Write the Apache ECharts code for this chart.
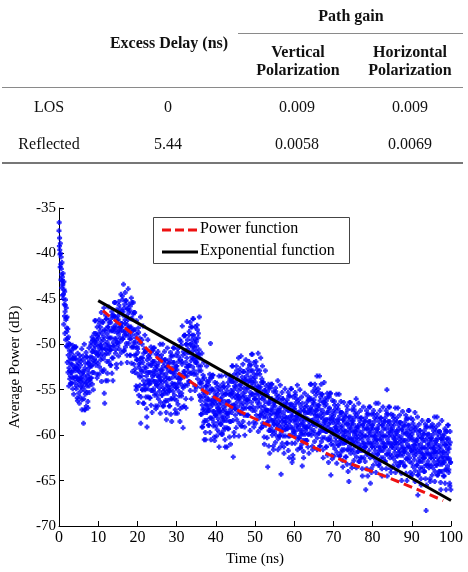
<!DOCTYPE html>
<html>
<head>
<meta charset="utf-8">
<script src="https://cdn.jsdelivr.net/npm/echarts@6/dist/echarts.min.js"></script>
<style>
  body { margin: 0; background: #fff; }
  #myChart { position: absolute; left: 0; top: 0; width: 468px; height: 572px; }
  #table { position: absolute; left: 0; top: 0; width: 468px; height: 170px; pointer-events: none;
           font-family: "Liberation Serif", "Times New Roman", serif; font-size: 16px; color: #111; }
  #table .cell { position: absolute; transform: translate(-50%, -50%); white-space: nowrap; line-height: 18px; text-align: center; }
  #table .head { font-weight: bold; }
  #table .rule { position: absolute; background: #8a8a8a; }
</style>
</head>
<body>
<div id="myChart"></div>
<div id="table"></div>
<script>
// table on top
var rowLabels = ['LOS', 'Reflected'];
var excessDelayNs = ['0', '5.44'];
var gainVertical = ['0.009', '0.0058'];
var gainHorizontal = ['0.009', '0.0069'];

// sampled power delay profile: one row per ns, 10 samples each (0.1 ns step)
var sampleStepNs = 0.1;
// samples at ns + 0.05, 0.15, ...
var powerDbByNs = [
  [-36.6,-38.3,-40.1,-38.9,-41.2,-40.4,-42.3,-41.0,-42.6,-43.5],
  [-42.2,-44.5,-43.1,-45.6,-44.2,-46.4,-45.1,-47.3,-46.0,-48.2],
  [-47.0,-49.4,-48.3,-51.2,-49.9,-52.6,-50.7,-53.8,-51.5,-54.3],
  [-53.1,-51.0,-54.3,-52.2,-50.1,-53.7,-51.6,-55.5,-52.5,-50.4],
  [-52.6,-50.3,-53.6,-51.6,-54.6,-52.3,-55.9,-51.0,-53.9,-52.9],
  [-52.6,-54.4,-51.2,-55.8,-53.7,-51.9,-55.1,-53.3,-57.2,-54.0],
  [-54.3,-51.3,-58.7,-53.0,-50.0,-55.1,-57.2,-52.1,-53.8,-56.8],
  [-51.4,-54.6,-52.8,-56.3,-52.1,-53.9,-50.4,-55.3,-52.5,-54.2],
  [-52.4,-50.1,-53.7,-51.4,-49.2,-53.1,-50.8,-55.0,-51.8,-49.5],
  [-49.8,-47.4,-50.9,-48.8,-51.9,-49.5,-53.3,-48.1,-51.2,-50.2],
  [-48.9,-50.9,-47.3,-52.5,-50.1,-48.1,-51.7,-49.7,-54.1,-50.5],
  [-51.0,-47.5,-53.0,-49.5,-46.0,-55.4,-56.5,-48.5,-50.5,-54.0],
  [-47.2,-51.0,-48.9,-53.2,-48.1,-50.2,-45.9,-51.9,-48.5,-50.6],
  [-50.6,-47.6,-52.3,-49.3,-46.4,-51.5,-48.5,-54.0,-49.8,-46.8],
  [-48.2,-45.4,-49.4,-47.0,-50.6,-47.8,-52.2,-46.2,-49.8,-48.6],
  [-46.9,-48.9,-45.3,-50.5,-48.1,-46.1,-49.7,-47.7,-52.1,-48.5],
  [-47.7,-44.7,-49.4,-46.4,-43.4,-48.6,-50.7,-45.6,-47.3,-50.3],
  [-45.2,-49.0,-46.9,-51.2,-46.1,-48.2,-43.9,-49.9,-46.5,-48.6],
  [-49.4,-46.3,-51.2,-48.1,-44.9,-50.3,-47.2,-53.0,-48.5,-45.4],
  [-49.8,-46.5,-51.2,-48.4,-52.7,-49.3,-54.6,-47.4,-51.7,-50.3],
  [-50.5,-53.3,-48.2,-55.6,-52.2,-49.3,-54.5,-51.6,-58.7,-52.8],
  [-53.0,-49.5,-55.0,-51.5,-48.0,-54.0,-56.5,-50.5,-52.5,-55.0],
  [-50.8,-54.9,-52.6,-57.1,-59.1,-54.0,-49.5,-55.8,-52.2,-54.4],
  [-54.3,-51.5,-55.9,-53.1,-50.3,-55.1,-52.3,-57.5,-53.5,-50.7],
  [-53.0,-50.4,-54.1,-51.9,-55.3,-52.6,-56.8,-51.1,-54.5,-53.4],
  [-52.4,-54.4,-50.8,-56.0,-53.6,-51.6,-55.2,-53.2,-57.6,-54.0],
  [-54.0,-51.2,-55.6,-52.8,-50.0,-54.8,-56.8,-52.0,-53.6,-56.4],
  [-51.7,-55.4,-53.3,-57.5,-52.5,-54.6,-50.4,-56.2,-52.9,-55.0],
  [-55.1,-52.1,-56.8,-53.8,-50.9,-56.0,-53.0,-58.5,-54.3,-51.3],
  [-53.2,-50.4,-54.4,-52.0,-55.6,-52.8,-57.2,-51.2,-54.8,-53.6],
  [-52.4,-54.7,-50.5,-56.6,-53.8,-51.4,-55.7,-53.3,-58.5,-54.3],
  [-53.5,-49.7,-55.7,-51.9,-48.0,-54.6,-59.2,-50.8,-53.0,-56.8],
  [-49.0,-53.5,-51.0,-56.0,-50.0,-52.5,-47.5,-54.5,-50.5,-53.0],
  [-52.3,-49.0,-54.1,-50.9,-47.6,-53.2,-50.0,-56.0,-51.4,-48.1],
  [-50.3,-47.2,-51.6,-49.0,-52.9,-49.8,-54.6,-48.1,-52.0,-50.7],
  [-49.7,-52.0,-47.9,-53.8,-51.1,-48.8,-52.9,-50.6,-55.6,-51.5],
  [-55.8,-52.4,-57.7,-54.3,-51.0,-56.7,-59.1,-53.4,-55.3,-58.6],
  [-60.5,-57.5,-55.4,-59.7,-54.6,-56.7,-52.4,-58.4,-55.0,-57.1],
  [-57.3,-54.5,-58.9,-56.1,-53.3,-58.1,-49.9,-60.5,-56.5,-53.7],
  [-56.2,-53.4,-57.4,-55.0,-58.6,-55.8,-60.2,-54.2,-57.8,-56.6],
  [-55.8,-57.8,-54.3,-59.4,-57.0,-55.1,-58.6,-56.6,-61.3,-57.4],
  [-57.3,-54.6,-58.8,-56.1,-53.5,-58.0,-59.9,-55.4,-56.9,-59.5],
  [-54.7,-58.4,-56.3,-60.5,-55.5,-57.6,-53.4,-59.2,-61.3,-58.0],
  [-57.6,-54.6,-59.3,-56.3,-53.4,-58.5,-55.5,-61.0,-56.8,-53.8],
  [-55.4,-52.4,-56.7,-54.1,-62.4,-55.0,-59.7,-53.3,-57.1,-55.8],
  [-54.2,-56.5,-52.4,-58.3,-55.6,-53.3,-57.4,-55.1,-60.1,-56.0],
  [-55.8,-52.7,-57.6,-54.5,-51.3,-56.7,-59.0,-53.6,-55.4,-58.5],
  [-53.0,-57.0,-54.8,-59.1,-53.9,-56.1,-51.7,-57.8,-54.3,-56.5],
  [-56.1,-53.1,-57.8,-54.8,-51.9,-57.0,-54.0,-59.5,-55.3,-52.3],
  [-54.2,-51.1,-55.5,-52.9,-56.9,-53.8,-58.6,-52.0,-56.0,-54.7],
  [-53.7,-56.0,-51.9,-57.8,-55.1,-52.8,-56.9,-54.6,-59.6,-55.5],
  [-56.0,-52.9,-57.8,-54.7,-51.5,-56.9,-59.2,-53.8,-55.6,-58.7],
  [-54.2,-58.0,-55.9,-60.2,-55.1,-57.2,-52.9,-58.9,-55.5,-57.6],
  [-58.6,-55.6,-63.5,-57.3,-54.4,-59.5,-56.5,-62.0,-57.8,-54.8],
  [-57.2,-54.4,-58.4,-56.0,-59.6,-56.8,-61.2,-55.2,-58.8,-57.6],
  [-56.4,-58.4,-54.8,-60.0,-57.6,-55.6,-59.2,-57.2,-61.6,-58.0],
  [-58.5,-55.7,-60.1,-57.3,-54.5,-59.3,-64.3,-56.5,-58.1,-60.9],
  [-56.0,-59.4,-57.5,-61.3,-56.8,-58.6,-54.9,-60.1,-57.1,-59.0],
  [-59.3,-56.5,-60.9,-58.1,-55.3,-60.1,-57.3,-62.5,-58.5,-55.7],
  [-57.9,-54.9,-59.2,-56.6,-63.0,-57.5,-62.2,-55.8,-59.6,-58.3],
  [-56.8,-58.6,-55.3,-60.1,-57.9,-56.0,-59.4,-57.5,-61.6,-58.3],
  [-58.8,-56.1,-60.3,-57.6,-55.0,-59.5,-61.4,-56.9,-58.4,-61.0],
  [-63.4,-59.9,-58.0,-61.8,-57.3,-59.1,-55.4,-60.6,-57.6,-59.5],
  [-59.2,-56.8,-60.6,-58.2,-55.7,-59.9,-57.5,-62.0,-58.5,-56.1],
  [-57.2,-54.4,-58.4,-56.0,-59.6,-56.8,-61.2,-55.2,-58.8,-57.6],
  [-56.1,-58.2,-54.4,-59.9,-57.3,-55.2,-59.0,-56.9,-61.6,-57.8],
  [-58.0,-54.9,-59.8,-56.7,-53.5,-58.9,-61.2,-55.8,-57.6,-60.7],
  [-55.5,-59.5,-57.3,-61.6,-56.4,-58.6,-54.2,-60.3,-56.8,-59.0],
  [-59.6,-56.6,-61.3,-58.3,-55.4,-60.5,-57.5,-63.0,-58.8,-55.8],
  [-58.2,-55.4,-59.4,-64.4,-60.6,-57.8,-62.2,-56.2,-59.8,-58.6],
  [-57.9,-59.9,-56.3,-61.5,-59.1,-57.1,-60.7,-58.7,-63.1,-59.5],
  [-59.5,-56.7,-61.1,-58.3,-55.5,-60.3,-62.3,-57.5,-59.1,-61.9],
  [-57.5,-60.9,-59.0,-62.8,-58.3,-60.1,-56.4,-61.6,-58.6,-60.5],
  [-60.8,-58.0,-62.4,-59.6,-56.8,-61.6,-58.8,-64.0,-60.0,-65.1],
  [-59.2,-56.4,-60.4,-58.0,-61.6,-58.8,-63.2,-57.2,-60.8,-59.6],
  [-58.4,-60.4,-56.8,-62.0,-59.6,-57.6,-61.2,-59.2,-63.6,-60.0],
  [-60.3,-57.6,-61.8,-59.1,-56.5,-61.0,-62.9,-58.4,-59.9,-62.5],
  [-58.1,-61.7,-59.7,-63.7,-58.9,-60.9,-56.9,-62.5,-59.3,-61.3],
  [-61.3,-58.5,-66.0,-60.1,-57.3,-62.1,-59.3,-64.5,-60.5,-57.7],
  [-59.7,-56.9,-60.9,-58.5,-65.3,-59.3,-63.7,-57.7,-61.3,-60.1],
  [-58.9,-60.9,-57.3,-62.5,-60.1,-58.1,-61.7,-59.7,-64.1,-60.5],
  [-60.5,-57.7,-62.1,-59.3,-56.5,-61.3,-63.3,-58.5,-60.1,-62.9],
  [-58.1,-61.7,-59.7,-63.7,-58.9,-60.9,-56.9,-62.5,-59.3,-61.3],
  [-61.3,-58.5,-62.9,-60.1,-57.3,-62.1,-55.0,-64.5,-60.5,-57.7],
  [-59.7,-56.9,-60.9,-58.5,-62.1,-59.3,-63.7,-57.7,-61.3,-60.1],
  [-59.3,-61.1,-57.8,-62.6,-60.4,-58.5,-61.9,-60.0,-64.1,-60.8],
  [-60.8,-58.1,-62.3,-59.6,-57.0,-61.5,-63.4,-58.9,-60.4,-63.0],
  [-58.6,-62.2,-60.2,-64.2,-59.4,-61.4,-57.4,-63.0,-59.8,-61.8],
  [-61.8,-59.0,-63.4,-60.6,-57.8,-62.6,-59.8,-65.0,-61.0,-58.2],
  [-60.1,-57.3,-61.3,-58.9,-62.5,-59.7,-64.1,-58.1,-61.7,-60.5],
  [-59.9,-61.9,-58.3,-63.5,-61.1,-59.1,-62.7,-60.7,-65.1,-61.5],
  [-61.8,-59.1,-63.3,-60.6,-58.0,-66.6,-64.4,-59.9,-61.4,-64.0],
  [-59.5,-62.9,-61.0,-64.8,-60.3,-62.1,-58.4,-63.6,-60.6,-62.5],
  [-62.5,-59.9,-64.0,-61.4,-58.8,-63.3,-68.3,-65.5,-61.8,-59.1],
  [-61.0,-58.4,-62.1,-59.9,-63.3,-60.6,-64.8,-59.1,-62.5,-61.4],
  [-60.3,-62.1,-58.8,-63.6,-61.4,-59.5,-62.9,-61.0,-65.1,-61.8],
  [-61.8,-59.1,-63.3,-60.6,-58.0,-62.5,-64.4,-59.9,-61.4,-64.0],
  [-59.6,-63.2,-61.2,-65.2,-60.4,-62.4,-58.4,-64.0,-60.8,-62.8],
  [-63.0,-60.4,-64.5,-61.9,-59.3,-63.8,-61.1,-66.0,-62.3,-59.6],
  [-61.5,-58.9,-62.6,-60.4,-63.8,-61.1,-65.3,-59.6,-63.0,-66.0]
];
// interleaved samples at ns + 0.0, 0.1, ...
var powerDbByNsB = [
  [-37.5,-39.2,-39.6,-41.5,-40.0,-42.9,-41.7,-43.8,-43.0,-44.6],
  [-43.3,-45.0,-47.8,-44.0,-46.9,-48.8,-45.7,-49.5,-47.1,-50.2],
  [-48.6,-52.0,-50.3,-53.1,-49.2,-54.6,-51.8,-52.9,-50.0,-53.5],
  [-52.2,-54.3,-50.7,-53.1,-51.6,-54.9,-50.4,-52.8,-53.7,-51.3],
  [-51.6,-54.2,-52.9,-50.3,-54.9,-52.6,-53.6,-56.2,-52.0,-53.9],
  [-55.4,-53.0,-56.5,-51.6,-54.0,-52.3,-54.7,-53.7,-50.5,-56.1],
  [-53.0,-54.7,-51.7,-56.0,-53.4,-57.2,-52.6,-55.5,-54.3,-50.9],
  [-54.2,-51.4,-55.3,-53.5,-57.0,-52.1,-53.2,-54.6,-51.8,-53.9],
  [-51.4,-53.7,-49.8,-52.4,-50.8,-54.4,-49.5,-52.1,-53.1,-50.5],
  [-48.8,-51.6,-50.2,-47.4,-52.3,-49.8,-50.9,-53.7,-49.1,-51.2],
  [-52.1,-49.3,-53.3,-47.7,-50.5,-48.5,-51.3,-50.1,-46.5,-52.9],
  [-48.8,-50.4,-47.6,-51.6,-49.2,-52.8,-48.4,-51.2,-50.0,-46.8],
  [-50.6,-47.2,-51.9,-49.8,-54.0,-48.1,-49.3,-51.0,-47.6,-50.2],
  [-49.3,-52.3,-47.2,-50.6,-48.5,-53.2,-46.8,-50.2,-51.5,-48.1],
  [-47.0,-50.2,-48.6,-45.4,-51.0,-48.2,-49.4,-52.6,-47.4,-49.8],
  [-50.1,-47.3,-51.3,-45.7,-48.5,-46.5,-49.3,-48.1,-44.5,-50.9],
  [-46.4,-48.1,-45.1,-49.4,-46.8,-50.7,-46.0,-49.0,-47.7,-44.3],
  [-48.6,-45.2,-49.9,-47.8,-52.0,-46.1,-47.3,-49.0,-45.6,-48.2],
  [-48.1,-51.2,-45.8,-49.4,-47.2,-52.1,-45.4,-49.0,-50.3,-46.7],
  [-48.4,-52.2,-50.3,-46.5,-53.1,-49.8,-51.2,-55.0,-48.9,-51.7],
  [-54.7,-50.9,-56.4,-48.7,-52.5,-49.8,-53.6,-52.0,-47.0,-55.8],
  [-51.5,-53.5,-50.0,-55.0,-52.0,-56.5,-51.0,-54.5,-53.0,-49.0],
  [-54.4,-50.8,-55.8,-53.5,-58.0,-51.7,-53.1,-54.9,-51.3,-54.0],
  [-53.1,-55.9,-51.1,-54.3,-52.3,-56.7,-50.7,-53.9,-55.1,-51.9],
  [-51.9,-54.9,-53.4,-50.4,-55.6,-53.0,-54.1,-57.1,-52.3,-54.5],
  [-55.6,-52.8,-56.8,-51.2,-54.0,-52.0,-54.8,-53.6,-50.0,-56.4],
  [-52.8,-54.4,-51.6,-55.6,-53.2,-56.8,-52.4,-55.2,-54.0,-50.8],
  [-55.0,-51.7,-56.2,-54.2,-58.3,-52.5,-53.7,-55.4,-52.1,-54.6],
  [-53.8,-56.8,-51.7,-55.1,-53.0,-57.7,-51.3,-54.7,-56.0,-52.6],
  [-52.0,-55.2,-53.6,-50.4,-56.0,-53.2,-54.4,-57.6,-52.4,-54.8],
  [-56.2,-52.8,-57.6,-50.9,-54.3,-51.9,-55.2,-53.8,-49.5,-57.1],
  [-51.7,-53.8,-50.1,-55.4,-52.2,-56.9,-51.2,-54.8,-53.3,-49.1],
  [-53.0,-49.0,-54.5,-52.0,-57.0,-50.0,-51.5,-53.5,-49.5,-52.5],
  [-50.9,-54.1,-48.6,-52.3,-50.0,-55.1,-48.1,-51.8,-53.2,-49.5],
  [-49.0,-52.5,-50.7,-47.2,-53.3,-50.3,-51.6,-55.1,-49.4,-52.0],
  [-53.3,-50.2,-54.7,-48.4,-51.5,-49.3,-52.4,-51.1,-47.0,-54.2],
  [-54.3,-56.2,-52.9,-57.7,-54.8,-59.1,-53.9,-57.2,-55.8,-52.0],
  [-57.1,-53.7,-58.4,-56.3,-60.5,-54.6,-55.8,-57.5,-54.1,-56.7],
  [-56.1,-58.9,-54.1,-57.3,-55.3,-59.7,-53.7,-56.9,-58.1,-54.9],
  [-55.0,-58.2,-56.6,-53.4,-59.0,-56.2,-57.4,-60.6,-55.4,-57.8],
  [-59.0,-56.2,-60.1,-54.7,-57.4,-55.5,-58.2,-57.0,-53.5,-59.7],
  [-56.1,-57.6,-55.0,-58.8,-56.5,-59.9,-55.8,-58.4,-57.3,-54.3],
  [-58.0,-54.7,-59.2,-57.2,-61.3,-55.5,-56.7,-58.4,-55.1,-57.6],
  [-56.3,-59.3,-54.2,-57.6,-55.5,-60.2,-53.8,-57.2,-58.5,-55.1],
  [-54.1,-57.5,-55.8,-52.4,-58.4,-55.4,-56.7,-60.1,-54.6,-57.1],
  [-57.8,-54.7,-59.2,-52.9,-56.0,-53.8,-56.9,-55.6,-51.5,-58.7],
  [-54.5,-56.3,-53.1,-57.6,-54.9,-59.0,-54.0,-57.2,-55.8,-52.2],
  [-56.5,-53.0,-57.8,-55.7,-60.0,-53.9,-55.2,-57.0,-53.5,-56.1],
  [-54.8,-57.8,-52.7,-56.1,-54.0,-58.7,-52.3,-55.7,-57.0,-53.6],
  [-52.9,-56.4,-54.7,-51.1,-57.3,-54.2,-55.5,-59.1,-53.3,-56.0],
  [-57.3,-54.2,-58.7,-52.4,-55.5,-53.3,-56.4,-55.1,-51.0,-58.2],
  [-54.7,-56.5,-53.3,-57.8,-55.1,-59.2,-54.2,-57.4,-56.0,-52.4],
  [-57.6,-54.2,-58.9,-56.8,-61.0,-55.1,-56.3,-58.0,-54.6,-57.2],
  [-57.3,-60.3,-55.2,-58.6,-56.5,-61.2,-54.8,-58.2,-59.5,-56.1],
  [-56.0,-59.2,-57.6,-54.4,-60.0,-57.2,-58.4,-61.6,-56.4,-58.8],
  [-59.6,-56.8,-60.8,-55.2,-58.0,-56.0,-58.8,-57.6,-54.0,-60.4],
  [-57.3,-58.9,-56.1,-60.1,-57.7,-61.3,-56.9,-59.7,-58.5,-55.3],
  [-59.0,-56.0,-60.1,-58.3,-62.0,-56.8,-57.9,-59.4,-56.4,-58.6],
  [-58.1,-60.9,-56.1,-59.3,-57.3,-61.7,-55.7,-58.9,-60.1,-56.9],
  [-56.6,-60.0,-58.3,-54.9,-60.9,-57.9,-59.2,-62.6,-57.1,-59.6],
  [-59.8,-57.1,-60.9,-55.6,-58.3,-56.4,-59.0,-57.9,-54.5,-60.5],
  [-57.6,-59.1,-56.5,-60.3,-58.0,-61.4,-57.3,-59.9,-58.8,-55.8],
  [-59.5,-56.5,-60.6,-58.8,-62.5,-57.3,-58.4,-59.9,-56.9,-59.1],
  [-58.2,-60.6,-56.4,-59.2,-57.5,-61.3,-56.1,-58.9,-59.9,-57.1],
  [-56.0,-59.2,-57.6,-54.4,-60.0,-57.2,-58.4,-61.6,-56.4,-58.8],
  [-59.5,-56.5,-60.7,-54.8,-57.8,-55.6,-58.6,-57.3,-53.5,-60.3],
  [-56.7,-58.5,-55.3,-59.8,-57.1,-61.2,-56.2,-59.4,-58.0,-54.4],
  [-59.0,-55.5,-60.3,-58.2,-62.5,-56.4,-57.7,-59.5,-56.0,-58.6],
  [-58.3,-61.3,-56.2,-59.6,-57.5,-62.2,-55.8,-59.2,-60.5,-57.1],
  [-57.0,-60.2,-58.6,-55.4,-61.0,-58.2,-59.4,-62.6,-57.4,-59.8],
  [-61.1,-58.3,-62.3,-56.7,-59.5,-57.5,-60.3,-59.1,-55.5,-61.9],
  [-58.3,-59.9,-57.1,-61.1,-58.7,-62.3,-57.9,-60.7,-59.5,-56.3],
  [-60.5,-57.5,-61.6,-59.8,-63.5,-58.3,-59.4,-60.9,-57.9,-60.1],
  [-59.6,-62.4,-57.6,-60.8,-58.8,-63.2,-57.2,-60.4,-61.6,-58.4],
  [-58.0,-61.2,-59.6,-56.4,-62.0,-59.2,-60.4,-63.6,-58.4,-60.8],
  [-61.6,-58.8,-62.8,-57.2,-60.0,-58.0,-60.8,-59.6,-56.0,-62.4],
  [-59.1,-60.6,-58.0,-61.8,-59.5,-62.9,-58.8,-61.4,-60.3,-57.3],
  [-61.3,-58.1,-62.5,-60.5,-64.5,-58.9,-60.1,-61.7,-58.5,-60.9],
  [-60.1,-62.9,-58.1,-61.3,-59.3,-63.7,-57.7,-60.9,-62.1,-58.9],
  [-58.5,-61.7,-60.1,-56.9,-62.5,-59.7,-60.9,-64.1,-58.9,-61.3],
  [-62.1,-59.3,-63.3,-57.7,-60.5,-58.5,-61.3,-60.1,-56.5,-62.9],
  [-59.3,-60.9,-58.1,-62.1,-59.7,-63.3,-58.9,-61.7,-60.5,-57.3],
  [-61.3,-58.1,-62.5,-60.5,-64.5,-58.9,-60.1,-61.7,-58.5,-60.9],
  [-60.1,-62.9,-58.1,-61.3,-59.3,-63.7,-57.7,-60.9,-62.1,-58.9],
  [-58.5,-61.7,-60.1,-56.9,-62.5,-59.7,-60.9,-64.1,-58.9,-61.3],
  [-62.3,-59.6,-63.4,-58.1,-60.8,-58.9,-61.5,-60.4,-57.0,-63.0],
  [-59.6,-61.1,-58.5,-62.3,-60.0,-63.4,-59.3,-61.9,-60.8,-57.8],
  [-61.8,-58.6,-63.0,-61.0,-65.0,-59.4,-60.6,-62.2,-59.0,-61.4],
  [-60.6,-63.4,-58.6,-61.8,-59.8,-64.2,-58.2,-61.4,-62.6,-59.4],
  [-58.9,-62.1,-60.5,-57.3,-62.9,-60.1,-61.3,-64.5,-59.3,-61.7],
  [-63.1,-60.3,-64.3,-58.7,-61.5,-59.5,-62.3,-61.1,-57.5,-63.9],
  [-60.6,-62.1,-59.5,-63.3,-61.0,-64.4,-60.3,-62.9,-61.8,-58.8],
  [-62.5,-59.5,-63.6,-61.8,-65.5,-60.3,-61.4,-62.9,-59.9,-62.1],
  [-61.4,-64.0,-59.5,-62.5,-60.6,-64.8,-59.1,-62.1,-63.3,-60.3],
  [-59.9,-62.9,-61.4,-58.4,-63.6,-61.0,-62.1,-65.1,-60.3,-62.5],
  [-63.3,-60.6,-64.4,-59.1,-61.8,-59.9,-62.5,-61.4,-58.0,-64.0],
  [-60.6,-62.1,-59.5,-63.3,-61.0,-64.4,-60.3,-62.9,-61.8,-58.8],
  [-62.8,-59.6,-64.0,-62.0,-66.0,-60.4,-61.6,-63.2,-60.0,-62.4],
  [-61.9,-64.5,-60.0,-63.0,-61.1,-65.3,-59.6,-62.6,-63.8,-60.8],
  [-60.4,-63.4,-61.9,-58.9,-64.1,-61.5,-62.6,-65.6,-60.8,-63.0]
];

// fitted curves
var powerFitT  = [11.2, 13.7, 19.1, 23.7, 34.5, 40.3, 49.0, 57.0, 65.3, 73.6, 83.6, 98.0];
var powerFitDb = [-46.3, -47.2, -49.0, -51.0, -54.4, -56.0, -58.0, -59.6, -61.4, -63.0, -64.6, -67.2];
var expFitT  = [10, 100];
var expFitDb = [-45.2, -67.2];

var legendNames = ['Power function', 'Exponential function'];
var timeTicks = [0, 100, 10];   // min, max, step
var powerTicks = [-70, -35, 5];

// ---- table ----
var tbl = document.getElementById('table');
function cell(txt, x, y, head) {
    var d = document.createElement('div');
    d.className = 'cell' + (head ? ' head' : '');
    d.innerHTML = txt;
    d.style.left = x + 'px';
    d.style.top = y + 'px';
    tbl.appendChild(d);
}
function rule(x, y, w, h, c) {
    var d = document.createElement('div');
    d.className = 'rule';
    d.style.left = x + 'px'; d.style.top = y + 'px';
    d.style.width = w + 'px'; d.style.height = h + 'px';
    if (c) d.style.background = c;
    tbl.appendChild(d);
}
cell('Path gain', 351, 16, true);
cell('Excess Delay (ns)', 169, 43, true);
cell('Vertical<br>Polarization', 298, 61, true);
cell('Horizontal<br>Polarization', 410, 61, true);
rule(238, 33, 225, 1);
rule(2, 87, 461, 1);
rule(2, 162, 461, 2, '#777');
var colX = [49, 168, 297, 410];
var rowY = [107, 144];
for (var r = 0; r < rowLabels.length; r++) {
    cell(rowLabels[r], colX[0], rowY[r]);
    cell(excessDelayNs[r], colX[1], rowY[r]);
    cell(gainVertical[r], colX[2], rowY[r]);
    cell(gainHorizontal[r], colX[3], rowY[r]);
}

// ---- chart ----
var scatterData = [];
powerDbByNs.forEach(function (row, ns) {
    row.forEach(function (v, k) {
        scatterData.push([ns + (k + 0.5) * sampleStepNs, v]);
    });
});
powerDbByNsB.forEach(function (row, ns) {
    row.forEach(function (v, k) {
        scatterData.push([ns + k * sampleStepNs, v]);
    });
});
var powerFit = powerFitT.map(function (t, i) { return [t, powerFitDb[i]]; });
var expFit = expFitT.map(function (t, i) { return [t, expFitDb[i]]; });

var serif = '"Liberation Serif", "Times New Roman", serif';
var myChart = echarts.init(document.getElementById('myChart'));
var option = {
    animation: false,
    grid: { left: 50, right: 17, top: 208, bottom: 39 },
    // legend box drawn by hand so the line keys look like the original
    graphic: [
        { type: 'rect', left: 153, top: 217, z: 100,
          shape: { width: 196, height: 46 },
          style: { fill: '#fff', stroke: '#444', lineWidth: 1 } },
        { type: 'line', z: 101,
          shape: { x1: 162, y1: 230, x2: 198, y2: 230 },
          style: { stroke: '#ee1111', lineWidth: 3, lineDash: [9, 4] } },
        { type: 'line', z: 101,
          shape: { x1: 162, y1: 252, x2: 198, y2: 252 },
          style: { stroke: '#000', lineWidth: 3 } },
        { type: 'text', left: 200, top: 221, z: 101,
          style: { text: legendNames[0], font: '16px ' + serif, fill: '#000' } },
        { type: 'text', left: 200, top: 243, z: 101,
          style: { text: legendNames[1], font: '16px ' + serif, fill: '#000' } }
    ],
    xAxis: {
        type: 'value',
        min: timeTicks[0], max: timeTicks[1], interval: timeTicks[2],
        name: 'Time (ns)',
        nameLocation: 'middle',
        nameGap: 26,
        nameTextStyle: { fontFamily: serif, fontSize: 15, color: '#000' },
        axisLine: { lineStyle: { color: '#000', width: 1 } },
        axisTick: { inside: true, length: 5, lineStyle: { color: '#000' } },
        axisLabel: { fontFamily: serif, fontSize: 16, color: '#000', margin: 4 },
        splitLine: { show: false }
    },
    yAxis: {
        type: 'value',
        min: powerTicks[0], max: powerTicks[1], interval: powerTicks[2],
        name: 'Average Power (dB)',
        nameLocation: 'middle',
        nameRotate: 90,
        nameGap: 36,
        nameTextStyle: { fontFamily: serif, fontSize: 15, color: '#000' },
        axisLine: { show: true, lineStyle: { color: '#000', width: 1 } },
        axisTick: { show: true, inside: true, length: 5, lineStyle: { color: '#000' } },
        axisLabel: { fontFamily: serif, fontSize: 15, color: '#000', margin: 3 },
        splitLine: { show: false }
    },
    series: [
        {
            type: 'scatter',
            data: scatterData,
            // fat plus marker
            symbol: 'path://M1.6,0H4.4V1.6H6V4.4H4.4V6H1.6V4.4H0V1.6H1.6Z',
            symbolSize: 5,
            itemStyle: { color: '#0000ff' },
            z: 2
        },
        {
            name: legendNames[0],
            type: 'line',
            data: powerFit,
            smooth: true,
            symbol: 'none',
            lineStyle: { color: '#ee1111', width: 3, type: [9, 5] },
            z: 3
        },
        {
            name: legendNames[1],
            type: 'line',
            data: expFit,
            symbol: 'none',
            lineStyle: { color: '#000', width: 3 },
            z: 4
        }
    ]
};
window.onresize = myChart.resize;
myChart.setOption(option);
</script>
</body>
</html>
